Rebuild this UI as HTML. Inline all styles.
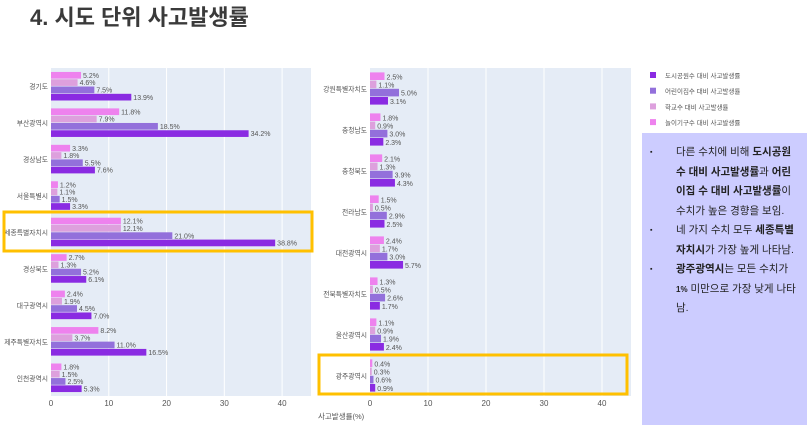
<!DOCTYPE html>
<html><head><meta charset="utf-8">
<style>
body{margin:0;width:812px;height:432px;background:#fff;overflow:hidden;font-family:"Liberation Sans","Noto Sans CJK KR",sans-serif;position:relative}
#title{position:absolute;left:30px;top:0px;font-size:22px;font-weight:bold;color:#3a3a3a;font-family:"Liberation Sans","Noto Sans CJK KR",sans-serif}
#note{position:absolute;left:642px;top:133px;width:165px;height:292px;background:#ccccff;box-sizing:border-box;padding:10px 8px 0 8px;font-size:10.5px;line-height:19.5px;color:#222}
#note ul{margin:0;padding:0;list-style:none}
#note li{position:relative;padding-left:26px}
#note li:before{content:"▪";position:absolute;left:0;font-size:7px}
svg{position:absolute;left:0;top:0}
</style></head><body>
<div id="title">4. 시도 단위 사고발생률</div>
<svg id="chart" width="812" height="432"></svg>
<div id="note"><ul>
<li>다른 수치에 비해 <b>도시공원 수 대비 사고발생률</b>과 <b>어린이집 수 대비 사고발생률</b>이 수치가 높은 경향을 보임.</li>
<li>네 가지 수치 모두 <b>세종특별자치시</b>가 가장 높게 나타남.</li>
<li><b>광주광역시</b>는 모든 수치가 <b style="font-size:8px">1%</b> 미만으로 가장 낮게 나타남.</li>
</ul></div>
<script>
const leftCats=["경기도","부산광역시","경상남도","서울특별시","세종특별자치시","경상북도","대구광역시","제주특별자치도","인천광역시"];
const leftPlay=[5.2,11.8,3.3,1.2,12.1,2.7,2.4,8.2,1.8];
const leftSchool=[4.6,7.9,1.8,1.1,12.1,1.3,1.9,3.7,1.5];
const leftDaycare=[7.5,18.5,5.5,1.5,21.0,5.2,4.5,11.0,2.5];
const leftPark=[13.9,34.2,7.6,3.3,38.8,6.1,7.0,16.5,5.3];
const rightCats=["강원특별자치도","충청남도","충청북도","전라남도","대전광역시","전북특별자치도","울산광역시","광주광역시"];
const rightPlay=[2.5,1.8,2.1,1.5,2.4,1.3,1.1,0.4];
const rightSchool=[1.1,0.9,1.3,0.5,1.7,0.5,0.9,0.3];
const rightDaycare=[5.0,3.0,3.9,2.9,3.0,2.6,1.9,0.6];
const rightPark=[3.1,2.3,4.3,2.5,5.7,1.7,2.4,0.9];
const xTicks=[0,10,20,30,40];
const seriesNames=["도시공원수 대비 사고발생률","어린이집수 대비 사고발생률","학교수 대비 사고발생률","놀이기구수 대비 사고발생률"];
const colors=["#8a2be2","#9370db","#dda0dd","#ee82ee"];
const NS="http://www.w3.org/2000/svg";
const svg=document.getElementById('chart');
function mk(t,a,p){const e=document.createElementNS(NS,t);for(const k in a)e.setAttribute(k,a[k]);(p||svg).appendChild(e);return e;}
function panel(px0,px1,top,bottom,cats,series,pname,bgx0){
  const sx=v=>px0+v*(px1-px0)/45;
  const bg=mk('rect',{x:bgx0,y:top,width:px1-bgx0,height:bottom-top,fill:'#e5ecf6'});
  
  
  xTicks.forEach(t=>{
    if(t>0){const g=mk('line',{x1:sx(t),x2:sx(t),y1:top,y2:bottom,stroke:'#fff','stroke-width':1});
    
    }
    const tl=mk('text',{x:sx(t),y:bottom+10,'font-size':8,fill:'#555','text-anchor':'middle'});
    tl.textContent=t;
    
    
  });
  const n=cats.length, step=(bottom-top)/n, bh=step*0.8/4;
  cats.forEach((c,i)=>{
    const g0=top+i*step+step*0.1;
    const lab=mk('text',{x:px0-3,y:top+i*step+step/2+3,'font-size':6.8,fill:'#555','text-anchor':'end'});
    lab.textContent=c;
    
    
    series.forEach((s,j)=>{
      const y=g0+j*bh, v=s.vals[i];
      const r=mk('rect',{x:px0,y:y+0.3,width:Math.max(sx(v)-px0,0.5),height:bh-0.6,fill:s.color});
      
      
      const tv=mk('text',{x:sx(v)+2,y:y+bh-1,'font-size':7,fill:'#555'});
      tv.textContent=v.toFixed(1)+'%';
      
      
    });
  });
}
panel(51,311,68,396,leftCats,[{vals:leftPlay,color:colors[3]},{vals:leftSchool,color:colors[2]},{vals:leftDaycare,color:colors[1]},{vals:leftPark,color:colors[0]}],'left',51);
panel(370,631,68,396,rightCats,[{vals:rightPlay,color:colors[3]},{vals:rightSchool,color:colors[2]},{vals:rightDaycare,color:colors[1]},{vals:rightPark,color:colors[0]}],'right',370);
const xt=mk('text',{x:318,y:419,'font-size':7.5,fill:'#555'});
xt.textContent='사고발생률(%)';


seriesNames.forEach((nm,i)=>{
  const y=72+i*15.7;
  const sw=mk('rect',{x:650,y:y,width:6,height:6,fill:colors[i]});
  
  
  const t=mk('text',{x:665,y:y+6,'font-size':6.5,fill:'#555'});
  t.textContent=nm;
  
  
});
const h1=mk('rect',{x:4,y:212,width:308,height:39,fill:'none',stroke:'#ffc000','stroke-width':3});


const h2=mk('rect',{x:319,y:355,width:308,height:39,fill:'none',stroke:'#ffc000','stroke-width':3});


</script>
</body></html>
